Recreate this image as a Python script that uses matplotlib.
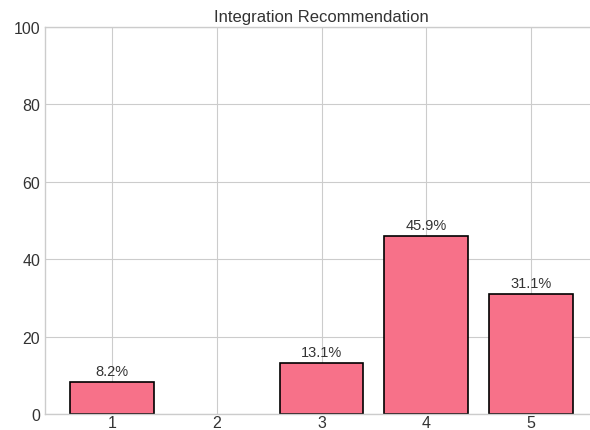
import matplotlib
matplotlib.use("Agg")
import matplotlib.pyplot as plt

# Share of responses per recommendation score
scores = [1, 2, 3, 4, 5]
percents = [8.2, 0.0, 13.1, 45.9, 31.1]

plt.style.use("seaborn-v0_8-whitegrid")
plt.rcParams["font.family"] = ["Liberation Sans", "DejaVu Sans"]

W, H = 590, 431
fig = plt.figure(figsize=(W / 100, H / 100), dpi=100)
ax = fig.add_axes([45 / W, 16 / H, 553 / W, 387 / H])

bars = ax.bar(scores, percents, width=0.8, color="#f77189",
              edgecolor="black", linewidth=1.2)
for b, p in zip(bars, percents):
    if p > 0:
        ax.text(b.get_x() + b.get_width() / 2, p + 1, f"{p:.1f}%",
                ha="center", va="bottom", fontsize=10.5, color="#333333")
    else:
        b.set_edgecolor("none")

ax.set_ylim(0, 100)
ax.set_xlim(0.36, 5.64)
ax.set_xticks(scores)
ax.set_title("Integration Recommendation", fontsize=12, color="#333333", pad=4)
ax.tick_params(labelsize=11.5, colors="#333333")
ax.tick_params(axis="x", pad=1)
for s in ax.spines.values():
    s.set_color("#cccccc")

fig.savefig("out.png", dpi=100)
